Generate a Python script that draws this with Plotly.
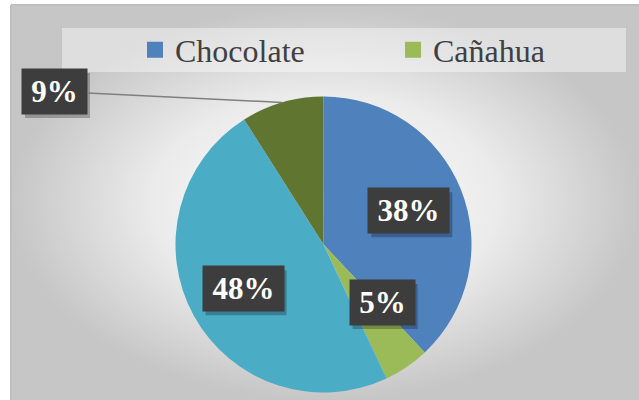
import math
import plotly.graph_objects as go

# ---- data ----
labels = ["Chocolate", "Cañahua", "Serie 3", "Serie 4"]
values = [38, 5, 48, 9]
colors = ["#4F81BD", "#9BBB59", "#4BACC6", "#5F7530"]
legend_labels = ["Chocolate", "Cañahua"]

# ---- layout constants ----
W, H = 639, 400
PIE_X = [175.5 / W, 471.5 / W]
PIE_Y = [1 - 392.5 / H, 1 - 96.5 / H]
SERIF = "Liberation Serif"

fig = go.Figure()

# chart area background (radial gradient)
fig.add_trace(go.Scatter(
    x=[11, W, W, 11, 11], y=[5, 5, H, H, 5], mode="lines", fill="toself",
    line=dict(width=0),
    fillgradient=dict(type="radial",
                      colorscale=[[0, "#ffffff"], [0.55, "#ebebeb"], [1, "#c6c6c6"]]),
    hoverinfo="skip", showlegend=False))

# pie
fig.add_trace(go.Pie(
    labels=labels, values=values, sort=False, direction="clockwise", rotation=0,
    marker=dict(colors=colors, line=dict(width=0)), textinfo="none",
    domain=dict(x=PIE_X, y=PIE_Y), showlegend=False, hoverinfo="label+percent"))

# legend entries
for lab in legend_labels:
    c = colors[labels.index(lab)]
    fig.add_trace(go.Scatter(x=[None], y=[None], mode="markers", name=lab,
                             marker=dict(symbol="square", size=16, color=c)))

# pie geometry in pixels
cx = (PIE_X[0] + PIE_X[1]) / 2 * W
cy = H - (PIE_Y[0] + PIE_Y[1]) / 2 * H
r = min((PIE_X[1] - PIE_X[0]) * W, (PIE_Y[1] - PIE_Y[0]) * H) / 2

total = sum(values)
shapes = []
annotations = []
# legend box
shapes.append(dict(type="rect", xref="x", yref="y", x0=62, x1=626, y0=28, y1=72,
                   fillcolor="rgba(250,250,250,0.45)", line=dict(width=0), layer="above"))
# chart border (top & left)
shapes.append(dict(type="line", xref="x", yref="y", x0=11, x1=W, y0=5, y1=5,
                   line=dict(color="#bfbfbf", width=2), layer="above"))
shapes.append(dict(type="line", xref="x", yref="y", x0=11, x1=11, y0=5, y1=H,
                   line=dict(color="#bfbfbf", width=2), layer="above"))

inside_frac = 0.62
nudges = {"Cañahua": (7, -18)}
outside = {"Serie 4": (54.5, 91.5)}
cum = 0
for lab, v in zip(labels, values):
    pct = v / total
    mid = (cum + pct / 2) * 2 * math.pi
    cum += pct
    text = f"<b>{round(pct * 100)}%</b>"
    bw = 81 if len(str(round(pct * 100))) > 1 else 65
    bh = 45
    if lab in outside:
        bx, by = outside[lab]
        tipx = cx + r * math.sin(mid)
        tipy = cy - r * math.cos(mid)
        annotations.append(dict(
            x=tipx, y=tipy, xref="x", yref="y", ax=bx - tipx, ay=by - tipy,
            axref="pixel", ayref="pixel", showarrow=True, arrowhead=0,
            arrowcolor="#7f7f7f", arrowwidth=1.5, text=text,
            font=dict(family=SERIF, size=31, color="white"),
            bgcolor="#3d3d3d", width=bw, height=bh, borderpad=0))
    else:
        dx, dy = nudges.get(lab, (0, 0))
        bx = cx + inside_frac * r * math.sin(mid) + dx
        by = cy - inside_frac * r * math.cos(mid) + dy
        annotations.append(dict(
            x=bx, y=by, xref="x", yref="y", showarrow=False, text=text,
            xanchor="center", yanchor="middle",
            font=dict(family=SERIF, size=31, color="white"),
            bgcolor="#3d3d3d", width=bw, height=bh, borderpad=0))
    shapes.append(dict(type="rect", xref="x", yref="y",
                       x0=bx - bw / 2 + 3, x1=bx + bw / 2 + 3,
                       y0=by - bh / 2 + 4, y1=by + bh / 2 + 4,
                       fillcolor="rgba(0,0,0,0.25)", line=dict(width=0), layer="above"))

fig.update_layout(
    width=W, height=H, margin=dict(l=0, r=0, t=0, b=0, autoexpand=False),
    paper_bgcolor="white", plot_bgcolor="rgba(0,0,0,0)",
    xaxis=dict(range=[0, W], visible=False, fixedrange=True, domain=[0, 1]),
    yaxis=dict(range=[H, 0], visible=False, fixedrange=True, domain=[0, 1]),
    showlegend=True,
    legend=dict(orientation="h", x=135 / W, xanchor="left", y=1 - 50 / H, yanchor="middle",
                bgcolor="rgba(0,0,0,0)", entrywidth=213, entrywidthmode="pixels",
                font=dict(family=SERIF, size=32, color="#404040")),
    shapes=shapes, annotations=annotations,
)

fig.write_html("out.html")
